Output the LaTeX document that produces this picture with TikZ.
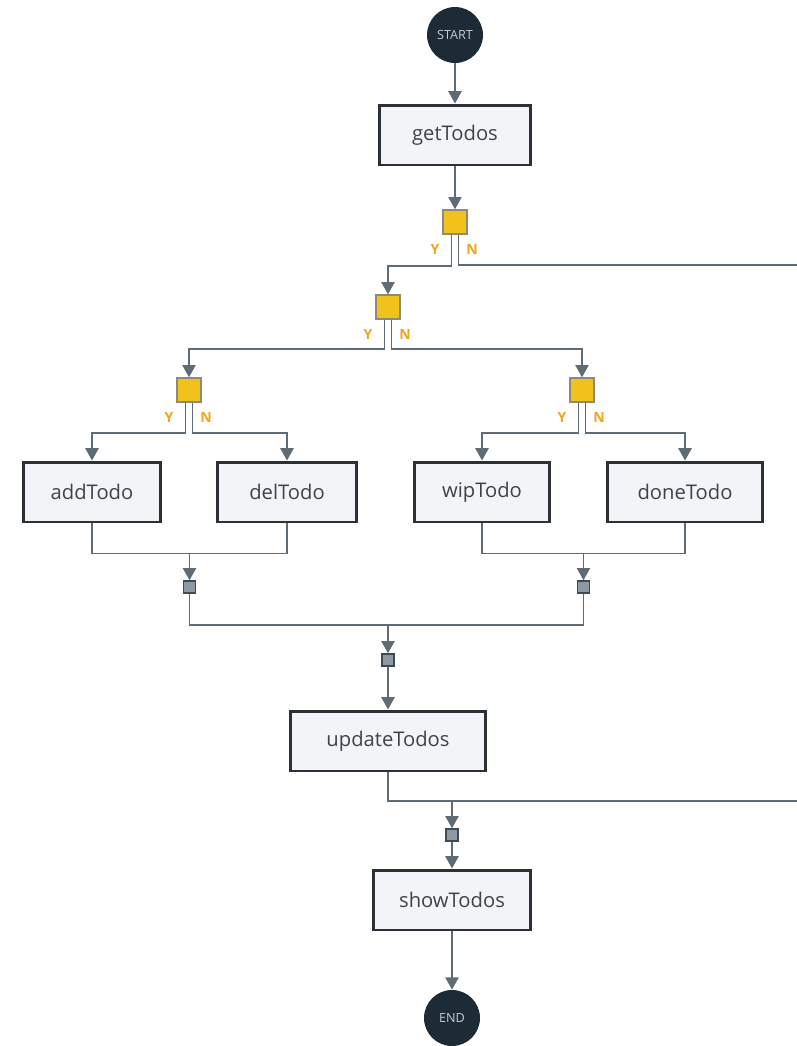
\documentclass[tikz,border=0pt]{standalone}
\usepackage{fontspec}
\setmainfont{Open Sans}
\usetikzlibrary{arrows.meta, positioning, calc}
\definecolor{wirec}{HTML}{5F6B75}
\definecolor{edgec}{HTML}{2B3136}
\definecolor{boxc}{HTML}{F2F4F8}
\definecolor{txtc}{HTML}{3E4347}
\definecolor{navyc}{HTML}{1D2B36}
\definecolor{termtxt}{HTML}{C6CBD0}
\definecolor{askc}{HTML}{F1C21B}
\definecolor{askedge}{HTML}{8F8A78}
\definecolor{mergec}{HTML}{8D9AA6}
\definecolor{mergeedge}{HTML}{3E4A54}
\definecolor{ync}{HTML}{F1A31B}

\begin{document}
\begin{tikzpicture}[x=0.02cm, y=-0.02cm,
	wire/.style={draw=wirec, line width=1.1pt},
	arr/.style={wire, -{Triangle[length=7pt,width=7.5pt]}},
	task/.style={draw=edgec, fill=boxc, line width=1.7pt, minimum height=1.2cm, text=txtc, font=\fontsize{11.5}{13}\selectfont},
	term/.style={circle, fill=navyc, minimum size=1.12cm, text=termtxt, font=\fontsize{7.2}{8}\selectfont},
	ask/.style={draw=askedge, fill=askc, line width=0.8pt, minimum size=0.48cm, inner sep=0pt},
	merge/.style={draw=mergeedge, fill=mergec, line width=0.8pt, minimum size=0.24cm, inner sep=0pt},
	yn/.style={text=ync, font=\bfseries\fontsize{8}{9}\selectfont, inner sep=0pt}]

		\useasboundingbox (0,0) rectangle (797,1046);

		\node[term] (start) at (455,35) {START};
		\node[task, minimum width=3.04cm] (get) at (455,135) {getTodos};

		\node[ask] (d1) at (455,222) {};
		\node[ask] (d2) at (388,307) {};
		\node[ask] (d3) at (189,390) {};
		\node[ask] (d4) at (582,390) {};

		\node[task, minimum width=2.74cm] (add) at (92,492) {addTodo};
		\node[task, minimum width=2.78cm] (del) at (287,492) {delTodo};
		\node[task, minimum width=2.72cm] (wip) at (482,492) {wipTodo};
		\node[task, minimum width=3.12cm] (done) at (685,492) {doneTodo};

		\node[merge] (m1) at (189.5,587) {};
		\node[merge] (m2) at (583.5,587) {};
		\node[merge] (m3) at (388,660) {};

		\node[task, minimum width=3.92cm] (upd) at (388,741) {updateTodos};
		\node[merge] (m4) at (452,835) {};
		\node[task, minimum width=3.14cm] (show) at (452,900) {showTodos};
		\node[term] (end) at (452,1018) {END};

		\coordinate (rimtop) at (797,265);
		\coordinate (rimbot) at (797,801);

		\foreach \d in {d1,d2,d3,d4} {
			\node[yn] (\d-y) at ($(\d)+(-20,27)$) {Y};
			\node[yn] (\d-n) at ($(\d)+(17,27)$) {N};
		}

		\draw[arr] (start) -- (get);
		\draw[arr] (get) -- (d1);

		\draw[arr] ([xshift=-2pt]d1.south) -- ++(0,31) -| (d2.north);
		\draw[wire] ([xshift=2pt]d1.south) |- (rimtop);

		\draw[arr] ([xshift=-2pt]d2.south) -- ++(0,29) -| (d3.north);
		\draw[arr] ([xshift=2pt]d2.south) -- ++(0,29) -| (d4.north);

		\draw[arr] ([xshift=-2pt]d3.south) -- ++(0,30) -| (add.north);
		\draw[arr] ([xshift=2pt]d3.south) -- ++(0,30) -| (del.north);
		\draw[arr] ([xshift=-2pt]d4.south) -- ++(0,30) -| (wip.north);
		\draw[arr] ([xshift=2pt]d4.south) -- ++(0,30) -| (done.north);

		\draw[wire] (add.south) -- ++(0,30) -| (del.south);
		\draw[arr] ($(m1 |- add.south)+(0,30)$) -- (m1);
		\draw[wire] (wip.south) -- ++(0,30) -| (done.south);
		\draw[arr] ($(m2 |- wip.south)+(0,30)$) -- (m2);

		\draw[wire] (m1.south) -- ++(0,31) -| (m2.south);
		\draw[arr] ($(m3 |- m1.south)+(0,31)$) -- (m3);
		\draw[arr] (m3) -- (upd);

		\draw[wire] (upd.south) |- (rimbot);
		\draw[arr] (m4 |- rimbot) -- (m4);
		\draw[arr] (m4) -- (show);
		\draw[arr] (show) -- (end);

\end{tikzpicture}
\end{document}
